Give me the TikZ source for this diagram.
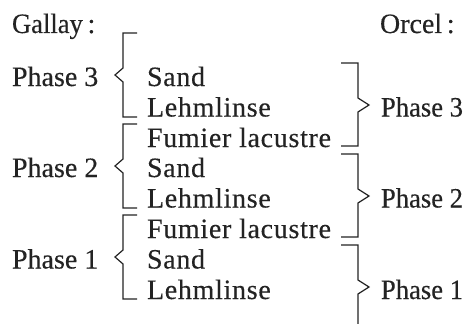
\documentclass[tikz,border=0pt]{standalone}
\usepackage{fontspec}
\setmainfont{Liberation Serif}
\newfontfamily\inkfont{Liberation Serif}[FakeBold=0.35]
\newfontfamily\inkwide{Liberation Serif}[FakeBold=0.35,LetterSpace=2.5]
\definecolor{ink}{RGB}{35,35,35}
\begin{document}
\begin{tikzpicture}[x=1pt,y=-1pt,
  lbl/.style={anchor=base west, inner sep=0pt, outer sep=0pt, text=ink,
    font=\inkfont\fontsize{28}{30}\selectfont},
  mid/.style={lbl, font=\inkwide\fontsize{28}{30}\selectfont},
  brk/.style={draw=ink, line width=1.2pt, line join=miter}]
\useasboundingbox (0,0) rectangle (467,324);
% headings
\node[lbl] (gallay) at (12,33) {\scalebox{0.95}[1]{Gallay}\,:};
\node[lbl] (orcel) at (380,33) {Orcel\,:};
% left labels
\node[lbl] (l3) at (12,86) {Phase 3};
\node[lbl] (l2) at (12,177) {Phase 2};
\node[lbl] (l1) at (12,268.5) {Phase 1};
% middle column
\node[mid] (s3) at (147,86) {Sand};
\node[mid] (m3) at (147,116.5) {Lehmlinse};
\node[mid] (f3) at (147,147) {Fumier lacustre};
\node[mid] (s2) at (147,177) {Sand};
\node[mid] (m2) at (147,207.5) {Lehmlinse};
\node[mid] (f2) at (147,238) {Fumier lacustre};
\node[mid] (s1) at (147,268.5) {Sand};
\node[mid] (m1) at (147,299) {Lehmlinse};
% right labels
\node[lbl] (r3) at (381,116.5) {\scalebox{0.95}[1]{Phase 3}};
\node[lbl] (r2) at (381,207.5) {\scalebox{0.95}[1]{Phase 2}};
\node[lbl] (r1) at (381,299) {\scalebox{0.95}[1]{Phase 1}};
% left brackets
\foreach \t in {33,124,215}{
  \draw[brk] (137,\t) -- (123,\t) -- (123,{\t+35}) -- (115,{\t+42})
    -- (123,{\t+49}) -- (123,{\t+84}) -- (137,{\t+84});
}
% right brackets
\foreach \t in {63,154}{
  \draw[brk] (341,\t) -- (358,\t) -- (358,{\t+35}) -- (369,{\t+42})
    -- (358,{\t+49}) -- (358,{\t+83}) -- (341,{\t+83});
}
\draw[brk] (341,245) -- (358,245) -- (358,280) -- (369,287)
  -- (358,294) -- (358,324);
\end{tikzpicture}
\end{document}
